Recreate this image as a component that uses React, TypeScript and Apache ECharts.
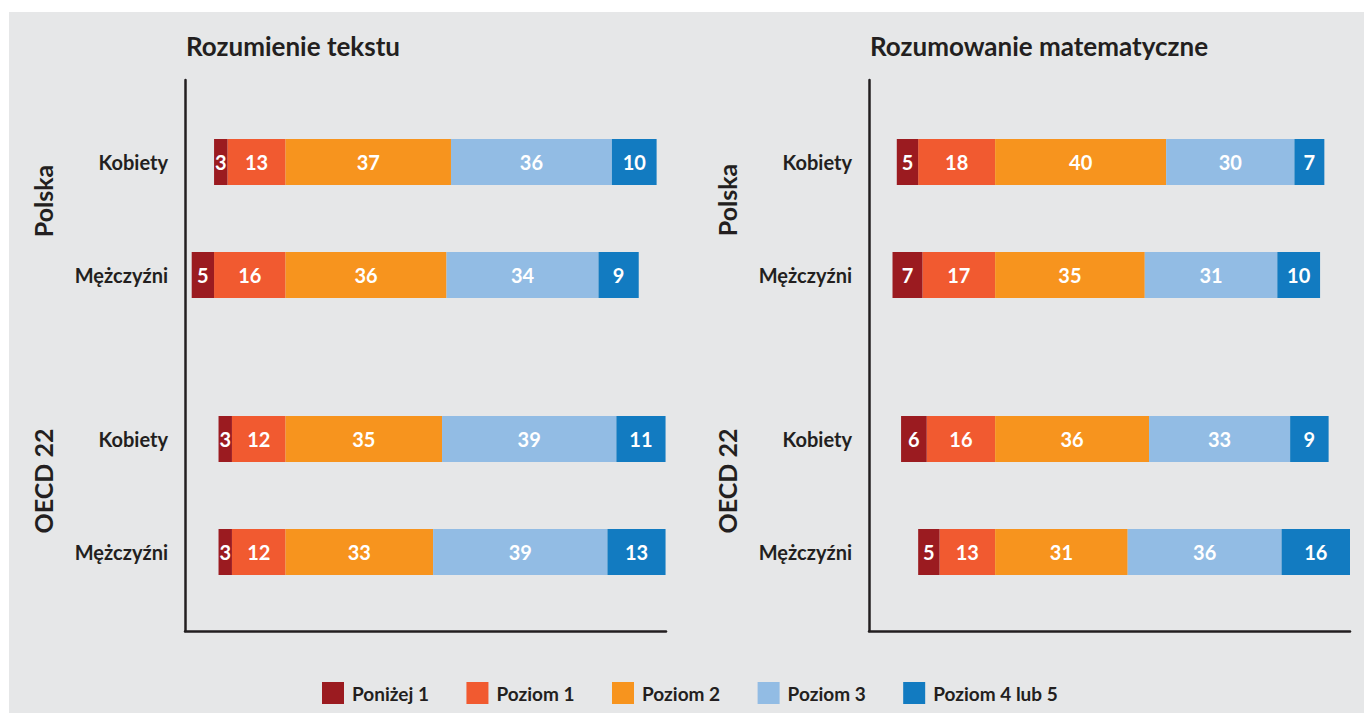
import React, { useEffect, useRef } from "react";
import * as echarts from "echarts";

// Categories and series
const categories = ["Kobiety", "Mężczyźni"];
const levels = ["Poniżej 1", "Poziom 1", "Poziom 2", "Poziom 3", "Poziom 4 lub 5"];
const levelColors = ["#9b1b20", "#f15a30", "#f7941e", "#92bce4", "#127bc1"];
const panelTitles = ["Rozumienie tekstu", "Rozumowanie matematyczne"];
const groupNames = ["Polska", "OECD 22"];

// Rozumienie tekstu — values per level (Poniżej 1, Poziom 1, Poziom 2, Poziom 3, Poziom 4 lub 5)
const rtPolskaKobiety = [3, 13, 37, 36, 10];
const rtPolskaMezczyzni = [5, 16, 36, 34, 9];
const rtOecdKobiety = [3, 12, 35, 39, 11];
const rtOecdMezczyzni = [3, 12, 33, 39, 13];

// Rozumowanie matematyczne
const rmPolskaKobiety = [5, 18, 40, 30, 7];
const rmPolskaMezczyzni = [7, 17, 35, 31, 10];
const rmOecdKobiety = [6, 16, 36, 33, 9];
const rmOecdMezczyzni = [5, 13, 31, 36, 16];

const FONT = "Lato, 'Open Sans', sans-serif";
const TEXT = "#231f20";

export default function App() {
  const ref = useRef<HTMLDivElement>(null);

  useEffect(() => {
    if (!ref.current) return;
    const chart = echarts.init(ref.current, undefined, { renderer: "svg" });

    const panels = [
      { groups: [[rtPolskaKobiety, rtPolskaMezczyzni], [rtOecdKobiety, rtOecdMezczyzni]], left: 185, min: -22.5, max: 85.1 },
      { groups: [[rmPolskaKobiety, rmPolskaMezczyzni], [rmOecdKobiety, rmOecdMezczyzni]], left: 869, min: -29.5, max: 83 },
    ];
    const groupTops = [105.5, 382.5];
    const groupHeight = 226;
    const panelWidth = 481;

    const grids: any[] = [];
    const xAxes: any[] = [];
    const yAxes: any[] = [];
    const series: any[] = [];
    const stackOrder = [1, 0, 2, 3, 4];

    panels.forEach((panel, p) => {
      panel.groups.forEach((rows, g) => {
        const idx = grids.length;
        grids.push({ left: panel.left, top: groupTops[g], width: panelWidth, height: groupHeight, containLabel: false });
        xAxes.push({
          gridIndex: idx, type: "value", min: panel.min, max: panel.max, show: false,
          splitLine: { show: false },
        });
        yAxes.push({
          gridIndex: idx, type: "category", data: categories, inverse: true,
          axisLine: { show: false }, axisTick: { show: false }, splitLine: { show: false },
          axisLabel: { margin: 17, color: TEXT, fontFamily: FONT, fontWeight: "bold", fontSize: 20 },
        });
        stackOrder.forEach((li) => {
          series.push({
            type: "bar",
            name: levels[li],
            xAxisIndex: idx,
            yAxisIndex: idx,
            stack: "s" + idx,
            barWidth: 46,
            itemStyle: { color: levelColors[li] },
            label: {
              show: true, position: "inside", color: "#ffffff",
              fontFamily: FONT, fontWeight: "bold", fontSize: 20,
              formatter: (pr: any) => String(Math.abs(pr.value)),
            },
            emphasis: { disabled: true },
            data: rows.map((row) => (li < 2 ? -row[li] : row[li])),
          });
        });
      });
    });

    // frame grids (axis lines)
    panels.forEach((panel) => {
      const idx = grids.length;
      grids.push({ left: panel.left, top: 80, width: panelWidth, height: 551 });
      const lineAxis = {
        gridIndex: idx, type: "value", min: 0, max: 1,
        axisLine: { show: true, onZero: false, lineStyle: { color: TEXT, width: 2.5 } },
        axisTick: { show: false }, axisLabel: { show: false }, splitLine: { show: false },
      };
      xAxes.push({ ...lineAxis });
      yAxes.push({ ...lineAxis });
    });

    const groupLabelPos = [
      [{ x: 43, y: 201 }, { x: 43, y: 481 }],
      [{ x: 727, y: 200 }, { x: 727, y: 481 }],
    ];

    const graphics: any[] = [
      { type: "rect", z: -10, silent: true, shape: { x: 9, y: 12, width: 1355, height: 701 }, style: { fill: "#e6e7e8" } },
    ];
    panels.forEach((panel, p) => {
      graphics.push({
        type: "text", x: panel.left + 1, y: 46,
        style: { text: panelTitles[p], fill: TEXT, font: `bold 26px ${FONT}`, textAlign: "left", textVerticalAlign: "middle" },
      });
      groupNames.forEach((gn, g) => {
        const pos = groupLabelPos[p][g];
        graphics.push({
          type: "text", x: pos.x, y: pos.y, rotation: Math.PI / 2,
          style: { text: gn, fill: TEXT, font: `bold 25px ${FONT}`, textAlign: "center", textVerticalAlign: "middle" },
        });
      });
    });

    chart.setOption({
      animation: false,
      backgroundColor: "#ffffff",
      grid: grids,
      xAxis: xAxes,
      yAxis: yAxes,
      series,
      legend: {
        data: levels,
        left: 317,
        top: 677,
        itemWidth: 22,
        itemHeight: 22,
        itemGap: 37.5,
        icon: "rect",
        selectedMode: false,
        textStyle: { color: TEXT, fontFamily: FONT, fontWeight: "bold", fontSize: 19, padding: [0, 0, 0, 3] },
      },
      graphic: graphics,
    });

    return () => chart.dispose();
  }, []);

  return (
    <div
      ref={ref}
      style={{ position: "fixed", left: 0, top: 0, width: 1364, height: 713 }}
    />
  );
}
